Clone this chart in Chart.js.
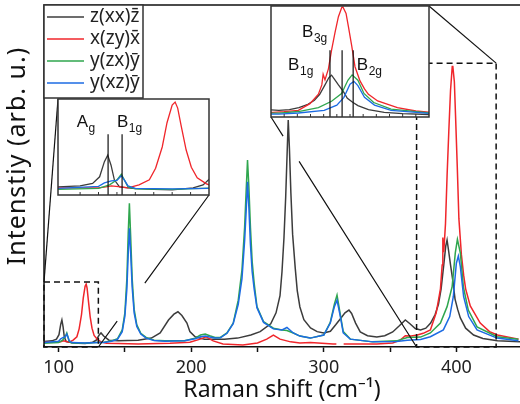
<!DOCTYPE html>
<html>
<head>
<meta charset="utf-8">
<script src="https://cdn.jsdelivr.net/npm/chart.js@4.4.1/dist/chart.umd.min.js"></script>
<style>
  body { margin: 0; background: #fff; }
  #wrap { position: relative; width: 520px; height: 404px; overflow: hidden; }
  canvas { position: absolute; }
</style>
</head>
<body>
<div id="wrap">
  <canvas id="main" width="520" height="404" style="left:0;top:0"></canvas>
  <canvas id="inset1" width="155" height="100" style="left:56px;top:97px"></canvas>
  <canvas id="inset2" width="162" height="115" style="left:269px;top:4px"></canvas>
</div>
<script>
// spectra: [Raman shift (cm-1), intensity (arb. u.)]
const zxxz = [[89,1.6],[95,1.8],[98.4,2.3],[100.3,3.6],[101.6,6.6],[102.5,7.9],[103.4,5.9],[104.3,3.0],[105.7,1.6],[109.3,1.3],
  [115,1.1],[120,1.0],[125.7,1.4],[128.4,2.0],[130.6,3.5],[132,4.1],[134,3.2],[138,2.0],[145,1.8],[152,1.9],
  [160,2.0],[170,2.6],[176.6,4.1],[182.9,7.9],[187,9.6],[190,10.3],[193,9.2],[196.8,7.0],[199,4.5],[203,3.0],
  [210,2.3],[225,2.3],[235,2.6],[245,3.5],[252,4.5],[260,6.8],[264,10],[267,15],[268.5,22],[270,32],
  [271.3,44],[272.4,57],[273.2,66.4],[274.1,58],[275.2,45],[276.5,33],[278.5,23],[280,16.5],[282,11.7],[285,8],
  [290,5.6],[295,4.5],[300,4.1],[305,4.6],[309,6.5],[313,8.5],[316,10],[319,10.8],[321,9.8],[324,7],
  [327.5,4.4],[333,3.3],[340,2.9],[346,3.3],[352,4.4],[357,6.2],[361.5,7.9],[365,6.8],[369,5.4],[373,5.0],
  [377,5.5],[380.6,7.0],[384,9.5],[386.5,12.5],[388.5,17],[390.5,24],[392,29.5],[393,31.3],[394.2,28],[395.6,24],
  [397.5,19],[399,14],[401,11],[403,8.5],[407,5.5],[413,3.5],[420,2.5],[431,1.8],[448,1.5]];

const xzyx = [[89,1.4],[95,1.4],[100,1.4],[102,1.6],[103.5,1.8],[106,1.6],[108,1.4],[111,2.0],[113.8,3.0],[115.5,5.3],
  [117.3,9.5],[118.6,14.3],[120,17.8],[120.8,18.4],[121.5,17.2],[122.5,13.5],[123.8,8.9],[125.2,5.5],[126.8,3.4],[129.3,2.2],
  [132,1.5],[136,1.1],[145,1.0],[160,0.9],[175,1.0],[184,1.1],[199,1.4],[206.8,2.3],[211.3,3.0],[216.6,1.8],
  [224,0.9],[239,0.6],[250,1.2],[257,2.3],[262,3.5],[267,2.3],[275,1.5],[282,1.2],[290,1.3],[307,0.9],
  [309.5,0.9],[310,null],[315,0.9],[340,0.9],[352,1.2],[357.7,2.0],[361.5,3.3],[366,3.2],[370.6,3.5],[375,4.0],
  [380.4,5.0],[384.8,10],[388,17],[389.3,24],[389.8,32],[390.5,27.7],[391.8,36],[393,50],[394.3,63],[395.6,75],
  [396.9,82],[397.3,82.2],[398.5,77.5],[399.4,67.5],[400.7,52.6],[401.9,37.6],[403.8,27],[405.5,21],[407,17],[410.5,12],
  [418,7],[425,4.5],[431,3.5],[447,2.3]];

const yzxy = [[89,1.1],[100,1.3],[103,2.0],[105,3.0],[106.2,4.1],[107,3.0],[108,1.6],[110,1.2],[120,1.1],[128,1.3],
  [134.3,1.4],[140,1.8],[144.4,2.4],[148,5],[150,10],[151.5,20],[152.5,33],[153.4,42],[154.3,33],[155.5,20],
  [157,11],[159,6.5],[162,4],[166,2.8],[172,2.0],[180,1.8],[195,1.8],[203,2.6],[207,3.5],[210.6,3.8],
  [214,3.3],[218,2.8],[222,2.8],[227,4.1],[231.7,7.0],[235.5,13.7],[238.3,22.5],[240.3,35],[241.5,46],[242.5,54.7],
  [243.5,47],[244.7,35],[246,25],[247.5,18.7],[249.6,11.8],[254.6,7.4],[262,5.5],[268.5,5.0],[272.2,4.8],[277,4.1],
  [282,3.2],[289.8,2.6],[300,3.5],[304.9,7.2],[308,12.5],[310,15.2],[312.5,9.5],[314.7,4.5],[320,2.3],[337,1.5],
  [355,1.8],[363,2.8],[373,2.9],[380.4,4.1],[388,7.0],[393,11.8],[396.8,17.6],[399.2,27.5],[400.8,31.5],[403,27.5],
  [405.3,17.6],[409,10.8],[415.6,5.9],[430.7,3.0],[446.8,2.3]];

const yxzy = [[89,1.3],[100,1.7],[101.6,2.4],[103.5,2.8],[105,2.9],[106.2,3.8],[107,3.0],[108,1.8],[110,1.3],[120,1.2],
  [130,1.3],[134.3,1.3],[140,1.7],[144.4,2.2],[148,4.5],[150,9],[151.5,17],[152.5,27],[153.4,34.7],[154.3,28],
  [155.5,17.5],[157,10],[159,6],[162,3.8],[166,2.6],[172,1.9],[180,1.7],[195,1.8],[203,2.4],[207,3.0],
  [210.6,3.2],[214,2.9],[218,2.6],[222,2.7],[227,4.0],[231.7,6.8],[235.5,12.5],[238.3,20],[240.3,31],[241.5,40],
  [242.5,48.3],[243.5,41],[244.7,30],[246,22],[247.5,17],[249.6,11.5],[254.6,7.2],[262,5.3],[268.5,5.0],[272.2,5.7],
  [277,4.1],[282,3.2],[289.8,2.6],[300,3.5],[304.9,7.0],[308,11.8],[310,13.7],[312.5,8.9],[314.7,4.1],[320,2.3],
  [337,1.5],[355,1.6],[363,2.0],[373,2.2],[380.4,3.0],[390.2,5.0],[395,8.9],[397.7,14.7],[400,24.5],[401.5,26.6],
  [403,23.5],[405.5,14.7],[409.3,8.9],[415.6,5.0],[430.7,2.6],[446.8,1.8]];

const seriesNames = ['z(xx)z\u0304', 'x(zy)x\u0304', 'y(zx)y\u0304', 'y(xz)y\u0304'];
const seriesColors = ['#3c3c3c', '#f0262b', '#2fa64e', '#1c6be3'];
const spectra = [zxxz, xzyx, yzxy, yxzy];

const shiftTicks = [100, 150, 200, 250, 300, 350, 400];
const zoom1Range = [89, 130, 0, 19];     // xmin, xmax, ymin, ymax
const zoom2Range = [370, 430, 0, 83];
const zoom1Ticks = [95, 100, 105, 110, 115, 120, 125];
const zoom2Ticks = [375, 380, 385, 390, 395, 400, 405, 410, 415, 420, 425];
const zoom1Modes = [{name: 'A', sub: 'g', at: 102.6, lx: 94.1, ly: 13.5}, {name: 'B', sub: '1g', at: 106.4, lx: 105, ly: 13.5}];
const zoom2Modes = [{name: 'B', sub: '1g', at: 392.4, lx: 376.5, ly: 35.2},
  {name: 'B', sub: '3g', at: 397, lx: 381.8, ly: 59.6},
  {name: 'B', sub: '2g', at: 401.2, lx: 402.6, ly: 35.2}];

// inset plot boxes on the page
const box1 = {left: 58, top: 99, right: 209, bottom: 195};
const box2 = {left: 271, top: 6, right: 429, bottom: 117};

function makeSets(width) {
  return spectra.map((s, i) => ({
    label: seriesNames[i],
    data: s.map(p => ({x: p[0], y: p[1]})),
    borderColor: seriesColors[i],
    borderWidth: width,
    pointRadius: 0,
    tension: 0,
    order: 3 - i
  }));
}

function seg(ctx, x1, y1, x2, y2, gap) {
  const at = t => [x1 + (x2 - x1) * t, y1 + (y2 - y1) * t];
  ctx.beginPath();
  if (gap) {
    const a = at(gap[0]), b = at(gap[1]);
    ctx.moveTo(x1, y1); ctx.lineTo(a[0], a[1]);
    ctx.moveTo(b[0], b[1]); ctx.lineTo(x2, y2);
  } else {
    ctx.moveTo(x1, y1); ctx.lineTo(x2, y2);
  }
  ctx.stroke();
}

const mainDecor = {
  id: 'mainDecor',
  afterDraw(chart) {
    const {ctx, chartArea: a, scales: {x, y}} = chart;
    ctx.save();
    ctx.strokeStyle = '#111';
    ctx.lineWidth = 1.5;
    ctx.beginPath();
    ctx.moveTo(a.left, a.bottom); ctx.lineTo(a.left, a.top); ctx.lineTo(a.right, a.top);
    ctx.stroke();

    // dashed zoom regions
    ctx.setLineDash([6, 4]);
    const r1 = [x.getPixelForValue(zoom1Range[0]), y.getPixelForValue(zoom1Range[3]), x.getPixelForValue(zoom1Range[1]), y.getPixelForValue(zoom1Range[2])];
    const r2 = [x.getPixelForValue(zoom2Range[0]), y.getPixelForValue(zoom2Range[3]), x.getPixelForValue(zoom2Range[1]), y.getPixelForValue(zoom2Range[2])];
    ctx.strokeRect(r1[0], r1[1], r1[2] - r1[0], r1[3] - r1[1]);
    ctx.strokeRect(r2[0], r2[1], r2[2] - r2[0], r2[3] - r2[1]);
    ctx.setLineDash([]);

    // connectors
    ctx.lineWidth = 1.2;
    seg(ctx, box1.left, box1.top, r1[0], r1[1]);
    seg(ctx, box1.right, box1.bottom, r1[2], r1[3], [0.58, 0.83]);
    seg(ctx, box2.right, box2.top, r2[2], r2[1]);
    seg(ctx, box2.left, box2.bottom, r2[0], r2[3], [0.083, 0.193]);

    // legend
    ctx.fillStyle = '#fff';
    ctx.fillRect(44, 5, 99, 93);
    ctx.strokeStyle = '#333';
    ctx.lineWidth = 1.5;
    ctx.strokeRect(44, 5, 99, 93);
    ctx.font = '19px "Noto Sans"';
    ctx.textBaseline = 'middle';
    seriesNames.forEach((n, i) => {
      const yy = 17 + i * 22;
      ctx.strokeStyle = seriesColors[i];
      ctx.lineWidth = 1.5;
      ctx.beginPath(); ctx.moveTo(47, yy); ctx.lineTo(84, yy); ctx.stroke();
      ctx.fillStyle = '#222';
      ctx.fillText(n, 90, yy);
    });

    // y title
    ctx.translate(18, 156);
    ctx.rotate(-Math.PI / 2);
    ctx.textAlign = 'center';
    ctx.font = '25px "Noto Sans"';
    ctx.letterSpacing = '1px';
    ctx.fillStyle = '#111';
    ctx.fillText('Intenstiy (arb. u.)', 0, 0);
    ctx.restore();
  }
};

new Chart(document.getElementById('main'), {
  type: 'line',
  data: {datasets: makeSets(1.5)},
  options: {
    responsive: false, animation: false, devicePixelRatio: 1,
    layout: {padding: {left: 44, right: 0, top: 5, bottom: 0}},
    plugins: {legend: {display: false}, tooltip: {enabled: false}},
    scales: {
      x: {
        type: 'linear', min: 89, max: 448,
        afterFit: s => { s.height = 57; },
        afterBuildTicks: s => { s.ticks = shiftTicks.map(v => ({value: v})); },
        grid: {drawOnChartArea: false, tickLength: 5, tickWidth: 1.5, tickColor: '#111'},
        border: {color: '#111', width: 1.5},
        ticks: {padding: 5, color: '#222', maxRotation: 0, autoSkip: false,
          font: {family: 'Noto Sans', size: 18},
          callback: v => v % 100 === 0 ? v : ''},
        title: {display: true, text: 'Raman shift (cm\u207B\u00B9)', color: '#111',
          font: {family: 'Noto Sans', size: 23}, padding: {top: 0, bottom: 0}}
      },
      y: {display: false, min: 0, max: 100}
    }
  },
  plugins: [mainDecor]
});

function insetDecor(ticks, modes, markTop) {
  return {
    id: 'insetDecor',
    beforeDraw(chart) {
      const {ctx, chartArea: a} = chart;
      ctx.save();
      ctx.fillStyle = '#fff';
      ctx.fillRect(a.left, a.top, a.right - a.left, a.bottom - a.top);
      ctx.restore();
    },
    afterDraw(chart) {
      const {ctx, chartArea: a, scales: {x, y}} = chart;
      ctx.save();
      ctx.strokeStyle = '#111';
      ctx.lineWidth = 1.2;
      modes.forEach(m => {
        const px = x.getPixelForValue(m.at);
        ctx.beginPath(); ctx.moveTo(px, a.bottom); ctx.lineTo(px, y.getPixelForValue(markTop)); ctx.stroke();
      });
      ctx.strokeStyle = '#333';
      ctx.lineWidth = 1;
      ticks.forEach(t => {
        const px = x.getPixelForValue(t);
        ctx.beginPath(); ctx.moveTo(px, a.bottom); ctx.lineTo(px, a.bottom - 3); ctx.stroke();
      });
      ctx.lineWidth = 1.5;
      ctx.strokeRect(a.left, a.top, a.right - a.left, a.bottom - a.top);
      ctx.fillStyle = '#111';
      ctx.textBaseline = 'alphabetic';
      modes.forEach(m => {
        const lx = x.getPixelForValue(m.lx), ly = y.getPixelForValue(m.ly);
        ctx.font = '17px "Liberation Sans"';
        ctx.fillText(m.name, lx, ly);
        const w = ctx.measureText(m.name).width;
        ctx.font = '12px "Liberation Sans"';
        ctx.fillText(m.sub, lx + w + 0.5, ly + 5);
      });
      ctx.restore();
    }
  };
}

function makeInset(id, range, ticks, modes, markTop) {
  new Chart(document.getElementById(id), {
    type: 'line',
    data: {datasets: makeSets(1.3)},
    options: {
      responsive: false, animation: false, devicePixelRatio: 1,
      layout: {padding: 2},
      plugins: {legend: {display: false}, tooltip: {enabled: false}},
      scales: {
        x: {type: 'linear', display: false, min: range[0], max: range[1]},
        y: {display: false, min: range[2], max: range[3]}
      }
    },
    plugins: [insetDecor(ticks, modes, markTop)]
  });
}

makeInset('inset1', zoom1Range, zoom1Ticks, zoom1Modes, 12);
makeInset('inset2', zoom2Range, zoom2Ticks, zoom2Modes, 50);
</script>
</body>
</html>
